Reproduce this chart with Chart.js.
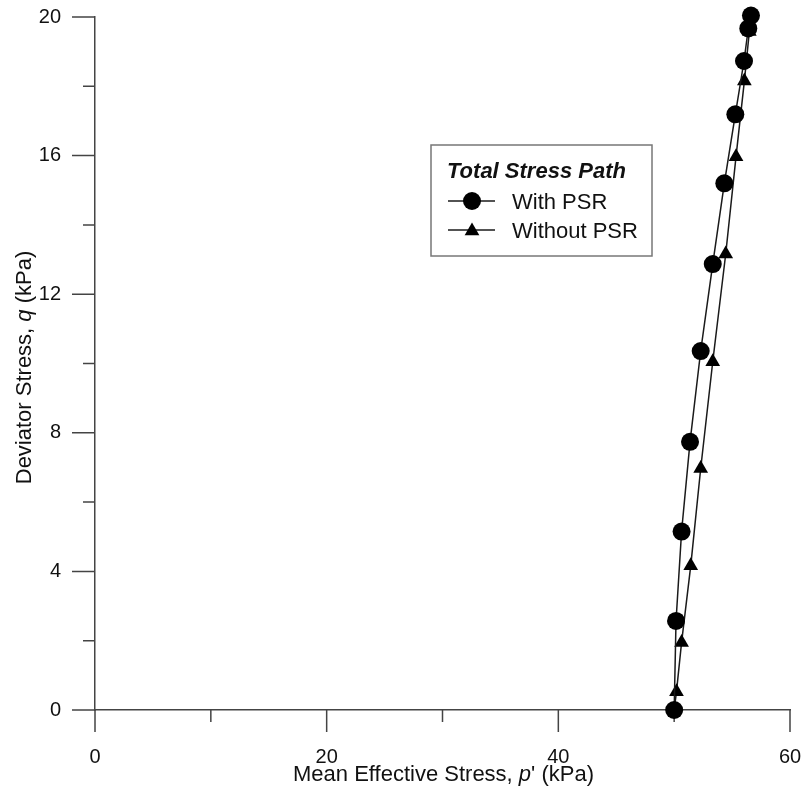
<!DOCTYPE html>
<html>
<head>
<meta charset="utf-8">
<title>Total Stress Path</title>
<script src="https://cdn.jsdelivr.net/npm/chart.js@4.4.0/dist/chart.umd.min.js"></script>
<style>
  html, body { margin: 0; padding: 0; background: #fff; }
  #wrap { width: 805px; height: 798px; }
</style>
</head>
<body>
<div id="wrap"><canvas id="chartCanvas" width="805" height="798"></canvas></div>
<script>
// values: mean effective stress p' and deviator stress q (kPa)
const withPsrP = [50.0, 50.16, 50.64, 51.37, 52.29, 53.33, 54.33, 55.28, 56.03, 56.4, 56.63];
const withPsrQ = [0, 2.57, 5.15, 7.74, 10.36, 12.87, 15.2, 17.19, 18.73, 19.67, 20.04];
const withoutPsrP = [50.0, 50.2, 50.64, 51.43, 52.29, 53.33, 54.45, 55.34, 56.06, 56.49];
const withoutPsrQ = [0, 0.53, 1.95, 4.16, 6.97, 10.05, 13.16, 15.97, 18.15, 19.58];

const xMajorTicks = [0, 20, 40, 60];
const xMinorTicks = [10, 30, 50];
const yMajorTicks = [0, 4, 8, 12, 16, 20];
const yMinorTicks = [2, 6, 10, 14, 18];

const seriesNames = ["With PSR", "Without PSR"];
const legendTitle = "Total Stress Path";

const FONT = "'Liberation Sans', Arial, sans-serif";
const AXIS_COLOR = '#444';
const LINE_COLOR = '#1a1a1a';

function toPoints(xs, ys) {
  return xs.map((x, i) => ({ x: x, y: ys[i] }));
}

// ticks of two lengths, outside the axes
const tickMarks = {
  id: 'tickMarks',
  beforeDatasetsDraw(chart) {
    const ctx = chart.ctx;
    const xs = chart.scales.x;
    const ys = chart.scales.y;
    const x0 = xs.left;
    const y0 = ys.bottom;
    ctx.save();
    ctx.strokeStyle = AXIS_COLOR;
    ctx.lineWidth = 1.5;
    ctx.beginPath();
    xMajorTicks.forEach(v => {
      const px = xs.getPixelForValue(v);
      ctx.moveTo(px, y0); ctx.lineTo(px, y0 + 22);
    });
    xMinorTicks.forEach(v => {
      const px = xs.getPixelForValue(v);
      ctx.moveTo(px, y0); ctx.lineTo(px, y0 + 12);
    });
    yMajorTicks.forEach(v => {
      const py = ys.getPixelForValue(v);
      ctx.moveTo(x0, py); ctx.lineTo(x0 - 23, py);
    });
    yMinorTicks.forEach(v => {
      const py = ys.getPixelForValue(v);
      ctx.moveTo(x0, py); ctx.lineTo(x0 - 12, py);
    });
    ctx.stroke();
    ctx.restore();
  }
};

// draws text made of parts with different font styles, centred on (0,0)
function drawParts(ctx, parts, size) {
  let total = 0;
  parts.forEach(p => {
    ctx.font = (p[1] || '') + ' ' + size + 'px ' + FONT;
    total += ctx.measureText(p[0]).width;
  });
  let x = -total / 2;
  parts.forEach(p => {
    ctx.font = (p[1] || '') + ' ' + size + 'px ' + FONT;
    ctx.fillText(p[0], x, 0);
    x += ctx.measureText(p[0]).width;
  });
}

const axisTitles = {
  id: 'axisTitles',
  afterDraw(chart) {
    const ctx = chart.ctx;
    const area = chart.chartArea;
    ctx.save();
    ctx.fillStyle = '#111';
    ctx.textBaseline = 'alphabetic';
    ctx.textAlign = 'left';

    ctx.save();
    ctx.translate((area.left + area.right) / 2 + 1, 781);
    drawParts(ctx, [["Mean Effective Stress, "], ["p", "italic"], ["' (kPa)"]], 22);
    ctx.restore();

    ctx.save();
    ctx.translate(31, (area.top + area.bottom) / 2 + 4);
    ctx.rotate(-Math.PI / 2);
    drawParts(ctx, [["Deviator Stress, "], ["q", "italic"], [" (kPa)"]], 22);
    ctx.restore();

    ctx.restore();
  }
};

function drawMarker(ctx, style, x, y, r) {
  ctx.beginPath();
  if (style === 'circle') {
    ctx.arc(x, y, r, 0, Math.PI * 2);
  } else {
    ctx.moveTo(x, y - r);
    ctx.lineTo(x + r * 0.866, y + r * 0.5);
    ctx.lineTo(x - r * 0.866, y + r * 0.5);
    ctx.closePath();
  }
  ctx.fill();
}

const boxLegend = {
  id: 'boxLegend',
  afterDraw(chart) {
    const ctx = chart.ctx;
    const left = 431, top = 145, w = 221, h = 111;
    ctx.save();
    ctx.fillStyle = '#fff';
    ctx.fillRect(left, top, w, h);
    ctx.strokeStyle = '#777';
    ctx.lineWidth = 1.5;
    ctx.strokeRect(left, top, w, h);

    ctx.fillStyle = '#111';
    ctx.textBaseline = 'alphabetic';
    ctx.textAlign = 'left';
    ctx.font = 'italic bold 22px ' + FONT;
    ctx.fillText(legendTitle, 447, 178);

    const rows = [201, 230];
    chart.data.datasets.forEach((ds, i) => {
      const y = rows[i];
      ctx.strokeStyle = ds.borderColor;
      ctx.lineWidth = ds.borderWidth;
      ctx.beginPath();
      ctx.moveTo(448, y); ctx.lineTo(495, y);
      ctx.stroke();
      ctx.fillStyle = ds.pointBackgroundColor;
      drawMarker(ctx, ds.pointStyle, 472, i === 0 ? y : y + 1, ds.pointRadius);
      ctx.fillStyle = '#111';
      ctx.font = '22px ' + FONT;
      ctx.fillText(ds.label, 512, y + 8);
    });
    ctx.restore();
  }
};

new Chart(document.getElementById('chartCanvas').getContext('2d'), {
  type: 'scatter',
  data: {
    datasets: [
      {
        label: seriesNames[0],
        data: toPoints(withPsrP, withPsrQ),
        showLine: true,
        borderColor: LINE_COLOR,
        borderWidth: 1.5,
        pointStyle: 'circle',
        pointRadius: 9,
        pointBackgroundColor: '#000',
        pointBorderWidth: 0,
        clip: false
      },
      {
        label: seriesNames[1],
        data: toPoints(withoutPsrP, withoutPsrQ),
        showLine: true,
        borderColor: LINE_COLOR,
        borderWidth: 1.5,
        pointStyle: 'triangle',
        pointRadius: 8.5,
        pointBackgroundColor: '#000',
        pointBorderWidth: 0,
        clip: false
      }
    ]
  },
  options: {
    responsive: false,
    animation: false,
    events: [],
    layout: { autoPadding: false, padding: { top: 17, right: 15, left: 0, bottom: 0 } },
    scales: {
      x: {
        type: 'linear',
        min: 0,
        max: 60,
        afterFit(scale) {
          scale.height = 88;
          scale.paddingLeft = 0;
          scale.paddingRight = 0;
        },
        grid: { display: false, drawTicks: false },
        border: { display: true, color: AXIS_COLOR, width: 1.5 },
        ticks: {
          stepSize: 10,
          autoSkip: false,
          maxRotation: 0,
          padding: 35,
          color: '#111',
          font: { family: FONT, size: 20 },
          callback: v => (xMajorTicks.includes(v) ? String(v) : '')
        }
      },
      y: {
        type: 'linear',
        min: 0,
        max: 20,
        afterFit(scale) {
          scale.width = 95;
          scale.paddingTop = 0;
          scale.paddingBottom = 0;
        },
        grid: { display: false, drawTicks: false },
        border: { display: true, color: AXIS_COLOR, width: 1.5 },
        ticks: {
          stepSize: 2,
          autoSkip: false,
          padding: 34,
          color: '#111',
          font: { family: FONT, size: 20 },
          callback: v => (yMajorTicks.includes(v) ? String(v) : '')
        }
      }
    },
    plugins: {
      legend: { display: false },
      tooltip: { enabled: false }
    }
  },
  plugins: [tickMarks, axisTitles, boxLegend]
});
</script>
</body>
</html>
